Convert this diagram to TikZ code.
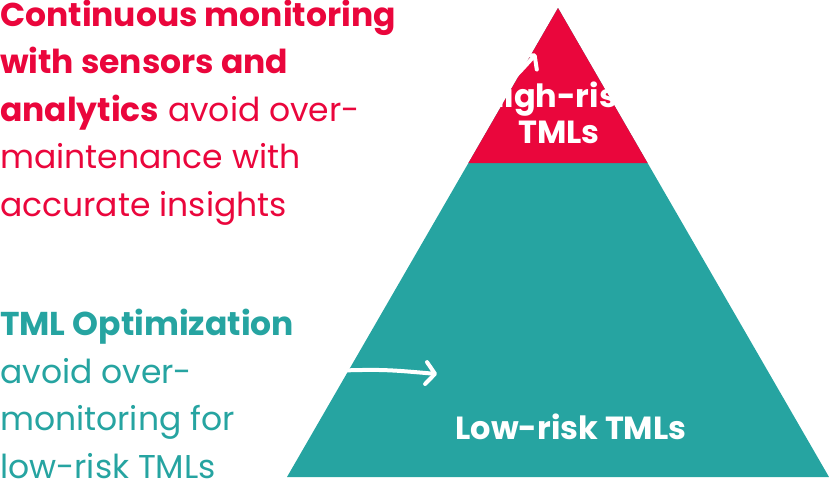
\documentclass[tikz,border=0pt]{standalone}
\usepackage{fontspec}
\setmainfont{Poppins}
\usetikzlibrary{positioning,arrows.meta,calc}
\definecolor{riskred}{RGB}{234,6,60}
\definecolor{lowteal}{RGB}{38,164,161}
\tikzset{
  note/.style={anchor=base west, align=left, inner sep=0pt,
    font=\fontsize{33}{47.5}\selectfont},
  tier/.style={anchor=base, align=center, inner sep=0pt, text=white,
    font=\fontsize{32}{36}\selectfont\bfseries},
  hint/.style={draw=white, line width=4pt, line cap=round,
    -{Straight Barb[length=9pt, width=22pt, line cap=round, line join=round]}}
}
\begin{document}
\begin{tikzpicture}[x=1pt, y=-1pt]
    \useasboundingbox (0,0) rectangle (829,485);
    % pyramid
    \coordinate (apex) at (558,8);
    \coordinate (bl) at (287,477);
    \coordinate (br) at (829,477);
    \fill[lowteal] (apex) -- (bl) -- (br) -- cycle;
    \fill[riskred] (apex) -- ($(apex)!0.3305!(bl)$) -- ($(apex)!0.3305!(br)$) -- cycle;

    % left notes (base = last line)
    \node[note, text=riskred] (hightext) at (0,216)
      {\textbf{Continuous monitoring}\\\textbf{with sensors and}\\\textbf{analytics} avoid over-\\maintenance with\\accurate insights};
    \node[note, text=lowteal] (lowtext) at (0,478)
      {\textbf{TML Optimization}\\avoid over-\\monitoring for\\low-risk TMLs};

    % tiers
    \node[tier] (hightier) at (559,143) {High-risk\\TMLs};
    \node[tier] (lowtier) at (571,439) {Low-risk TMLs};

    % arrows
    \coordinate (highfrom) at (360,120);
    \coordinate (highto) at (536,54);
    \coordinate (lowfrom) at (300,372);
    \coordinate (lowto) at (437,374);
    \draw[hint] (highfrom) .. controls (490,105) .. (highto);
    \draw[hint] (lowfrom) .. controls (380,369) .. (lowto);
\end{tikzpicture}
\end{document}
